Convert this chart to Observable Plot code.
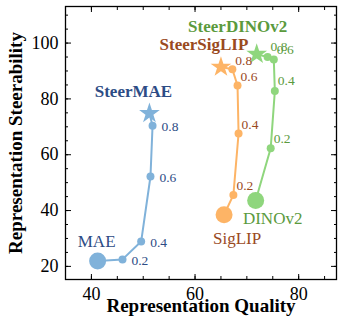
<!DOCTYPE html>
<html><head><meta charset="utf-8">
<script src="https://cdn.jsdelivr.net/npm/d3@7"></script>
<script src="https://cdn.jsdelivr.net/npm/@observablehq/plot@0.6"></script>
<style>body{margin:0;background:#fff} svg text{font-family:"Liberation Serif", serif !important}</style>
</head><body><div id="chart"></div>
<script>
// Data
const models = ["MAE", "SigLIP", "DINOv2"];
const steerNames = ["SteerMAE", "SteerSigLIP", "SteerDINOv2"];
const stepLabels = ["", "0.2", "0.4", "0.6", "0.8", ""];
const maeQuality = [41.2, 46.0, 49.6, 51.4, 51.8, 51.2];
const maeSteer = [21.9, 22.5, 28.9, 52.2, 70.4, 74.8];
const siglipQuality = [65.6, 67.4, 68.4, 68.2, 67.2, 65.0];
const siglipSteer = [38.5, 45.6, 67.6, 84.8, 90.6, 91.4];
const dinoQuality = [71.7, 74.6, 75.4, 75.2, 74.0, 71.9];
const dinoSteer = [43.6, 62.3, 82.8, 94.1, 95.0, 96.0];
const xMajorTicks = [40, 60, 80];
const yMajorTicks = [20, 40, 60, 80, 100];

// styles
const lineColor = ["#80b2da", "#fdb466", "#8fd67d"];
const textColor = ["#2d4c85", "#9a4a1e", "#5b9a3d"];
const stepDx = [9, 3, 3];
const stepDy = [1, -9, -10];
const baseDx = [-1, 13, 17], baseDy = [-20, 24, 18];
const steerDx = [-16, -17, -19], steerDy = [-22, -23, -28];

const qualities = [maeQuality, siglipQuality, dinoQuality];
const steers = [maeSteer, siglipSteer, dinoSteer];
const rows = [];
models.forEach((m, i) => {
  qualities[i].forEach((q, j) => {
    rows.push({i, model: m, steerName: steerNames[i], step: stepLabels[j], j, x: q, y: steers[i][j]});
  });
});
const base = rows.filter(d => d.j === 0);
const steps = rows.filter(d => d.j > 0 && d.j < 5);
const stars = rows.filter(d => d.j === 5);

const xMinor = d3.range(35, 88, 5);
const yMinor = d3.range(20, 113, 5);
const font = "Liberation Serif";

const marks = [
  Plot.axisX(xMajorTicks, {anchor: "bottom", tickSize: 0, tickPadding: 8, fontSize: 18, fill: "black", label: null}),
  Plot.axisY(yMajorTicks, {anchor: "left", tickSize: 0, tickPadding: 7, fontSize: 18, fill: "black", label: null}),
  Plot.axisX(xMinor, {anchor: "bottom", tickSize: -3, tickFormat: () => "", label: null, stroke: "black"}),
  Plot.axisX(xMinor, {anchor: "top", tickSize: -3, tickFormat: () => "", label: null, stroke: "black"}),
  Plot.axisX(xMajorTicks, {anchor: "bottom", tickSize: -5, tickFormat: () => "", label: null, stroke: "black"}),
  Plot.axisX(xMajorTicks, {anchor: "top", tickSize: -5, tickFormat: () => "", label: null, stroke: "black"}),
  Plot.axisY(yMinor, {anchor: "left", tickSize: -3, tickFormat: () => "", label: null, stroke: "black"}),
  Plot.axisY(yMinor, {anchor: "right", tickSize: -3, tickFormat: () => "", label: null, stroke: "black"}),
  Plot.axisY(yMajorTicks, {anchor: "left", tickSize: -6, tickFormat: () => "", label: null, stroke: "black"}),
  Plot.axisY(yMajorTicks, {anchor: "right", tickSize: -6, tickFormat: () => "", label: null, stroke: "black"}),
  Plot.frame({stroke: "black", strokeWidth: 1.3}),
  Plot.line(rows, {x: "x", y: "y", z: "model", stroke: d => lineColor[d.i], strokeWidth: 2}),
  Plot.dot(base, {x: "x", y: "y", r: 8.5, fill: d => lineColor[d.i]}),
  Plot.dot(steps, {x: "x", y: "y", r: 4, fill: d => lineColor[d.i]}),
  Plot.dot(stars, {x: "x", y: "y", r: 6.5, symbol: "star", fill: d => lineColor[d.i]}),
];
models.forEach((m, i) => {
  marks.push(Plot.text(steps.filter(d => d.i === i), {x: "x", y: "y", text: "step", dx: stepDx[i], dy: stepDy[i], textAnchor: "start", fontSize: 13.5, fill: textColor[i]}));
  marks.push(Plot.text(base.filter(d => d.i === i), {x: "x", y: "y", text: "model", dx: baseDx[i], dy: baseDy[i], fontSize: 17, fill: textColor[i]}));
  marks.push(Plot.text(stars.filter(d => d.i === i), {x: "x", y: "y", text: "steerName", dx: steerDx[i], dy: steerDy[i], fontSize: 17, fontWeight: "bold", fill: textColor[i]}));
});
marks.push(Plot.text(["Representation Quality"], {frameAnchor: "bottom", lineAnchor: "middle", dy: 26, fontSize: 19, fontWeight: "bold", fill: "black"}));
marks.push(Plot.text(["Representation Steerability"], {frameAnchor: "left", textAnchor: "middle", lineAnchor: "middle", dx: -50, rotate: -90, fontSize: 19, fontWeight: "bold", fill: "black"}));

const chart = Plot.plot({
  width: 339, height: 323,
  marginLeft: 65, marginRight: 3, marginTop: 6, marginBottom: 44,
  x: {domain: [35, 87.3]},
  y: {domain: [15.3, 113.1]},
  style: {fontFamily: font, fontSize: "17px", background: "white"},
  marks
});
document.getElementById("chart").appendChild(chart);
</script>
</body></html>
